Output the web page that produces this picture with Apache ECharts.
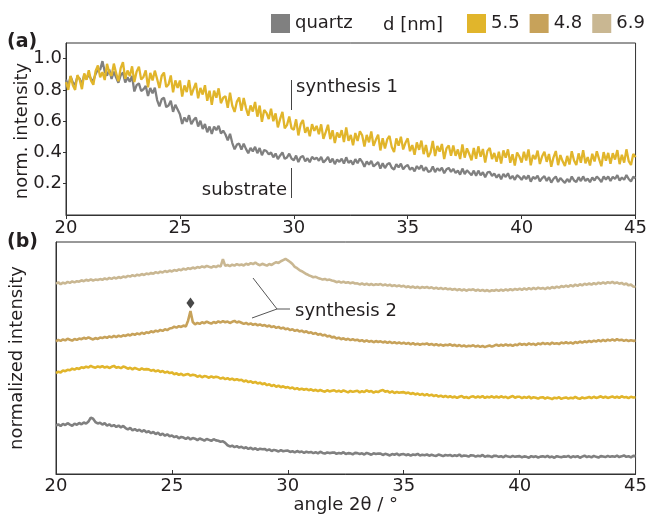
<!DOCTYPE html>
<html>
<head>
<meta charset="utf-8">
<script src="https://cdn.jsdelivr.net/npm/echarts@6/dist/echarts.min.js"></script>
<style>
  html, body { margin: 0; padding: 0; background: #fff; }
  #chart { width: 650px; height: 515px; }
</style>
</head>
<body>
<div id="chart"></div>
<script>
// Diffraction angle grid: 20.0 ... 45.0 deg in 0.1 deg steps
const angleStart = 20;
const angleStep = 0.1;

// Panel (a): normalized intensity x1000, one row per degree
const quartzA = [
  865, 828, 886, 848, 831, 884, 872, 834, 897, 870,
  900, 869, 858, 902, 931, 930, 984, 917, 891, 930,
  870, 917, 879, 846, 893, 911, 848, 880, 852, 889,
  790, 831, 842, 793, 804, 825, 761, 812, 778, 814,
  735, 695, 740, 750, 690, 700, 730, 660, 705, 675,
  645, 582, 624, 596, 638, 580, 607, 624, 566, 603,
  550, 582, 529, 566, 518, 566, 543, 570, 522, 539,
  515, 477, 519, 460, 420, 450, 457, 419, 456, 423,
  395, 429, 407, 436, 395, 428, 382, 416, 409, 388,
  400, 369, 393, 357, 381, 400, 359, 368, 392, 361,
  350, 380, 339, 369, 378, 343, 363, 337, 372, 356,
  367, 347, 372, 336, 351, 371, 336, 360, 325, 355,
  340, 360, 329, 369, 333, 348, 322, 357, 331, 361,
  340, 309, 343, 322, 346, 310, 324, 338, 297, 331,
  300, 324, 333, 302, 291, 325, 304, 328, 292, 311,
  320, 290, 304, 279, 313, 293, 317, 282, 306, 276,
  280, 310, 274, 299, 283, 303, 267, 292, 301, 276,
  295, 269, 284, 258, 297, 262, 286, 270, 255, 284,
  250, 284, 254, 273, 242, 272, 276, 250, 265, 239,
  260, 229, 263, 243, 267, 231, 250, 225, 254, 243,
  225, 250, 229, 254, 213, 243, 232, 252, 216, 236,
  248, 218, 242, 207, 232, 246, 211, 236, 220, 205,
  230, 210, 246, 221, 211, 242, 217, 247, 218, 233,
  210, 240, 221, 246, 231, 211, 246, 227, 247, 217,
  245, 230, 255, 220, 240, 225, 255, 230, 215, 245,
  235
];
const s55A = [
  850, 800, 890, 830, 800, 895, 865, 805, 905, 865,
  925, 859, 833, 922, 956, 880, 914, 863, 967, 911,
  890, 968, 907, 855, 939, 977, 871, 924, 888, 951,
  850, 917, 949, 866, 883, 925, 817, 909, 861, 923,
  870, 812, 889, 911, 818, 835, 892, 784, 861, 813,
  860, 757, 829, 786, 863, 765, 807, 844, 746, 813,
  770, 830, 730, 795, 705, 795, 750, 810, 715, 750,
  760, 686, 782, 698, 659, 725, 751, 667, 748, 684,
  635, 701, 662, 723, 629, 700, 596, 672, 653, 614,
  680, 600, 650, 560, 615, 660, 555, 575, 630, 555,
  545, 612, 509, 581, 608, 525, 562, 504, 581, 538,
  570, 517, 580, 487, 530, 577, 485, 542, 460, 527,
  495, 543, 467, 560, 474, 512, 446, 524, 473, 536,
  510, 438, 512, 465, 534, 442, 481, 514, 413, 491,
  425, 483, 506, 434, 402, 490, 443, 501, 419, 462,
  490, 408, 447, 385, 464, 417, 476, 389, 448, 371,
  400, 474, 377, 441, 405, 454, 358, 426, 445, 379,
  445, 379, 419, 358, 452, 367, 426, 390, 350, 429,
  360, 439, 373, 422, 336, 410, 429, 358, 397, 341,
  405, 329, 413, 366, 420, 334, 388, 317, 400, 374,
  335, 405, 349, 419, 318, 383, 357, 412, 326, 376,
  405, 340, 390, 309, 369, 409, 319, 383, 343, 313,
  378, 323, 408, 349, 319, 394, 334, 415, 330, 370,
  317, 392, 342, 407, 357, 312, 402, 347, 397, 327,
  395, 355, 415, 325, 385, 335, 420, 345, 320, 390,
  370
];

// Panel (b): stacked intensities (arbitrary units, offset per sample)
const quartzB = [
  209, 214, 207, 216, 211, 219, 213, 208, 217, 212,
  220, 214, 222, 217, 226, 243, 238, 224, 218, 221,
  213, 219, 208, 214, 206, 211, 203, 209, 201, 207,
  198, 192, 199, 188, 194, 186, 191, 183, 189, 180,
  184, 176, 181, 172, 178, 168, 174, 165, 171, 163,
  166, 159, 163, 154, 160, 157, 151, 158, 149, 155,
  152, 146, 153, 149, 144, 151, 147, 143, 150, 145,
  143, 139, 141, 134, 124, 119, 122, 116, 120, 114,
  117, 111, 115, 108, 113, 106, 111, 104, 109, 107,
  108, 102, 106, 99, 104, 101, 97, 103, 98, 100,
  101, 95, 98, 93, 99, 94, 97, 91, 96, 93,
  95, 90, 94, 89, 96, 91, 88, 93, 90, 92,
  93, 87, 91, 88, 94, 86, 90, 89, 85, 91,
  90, 86, 89, 84, 91, 87, 83, 89, 86, 88,
  88, 82, 87, 84, 80, 86, 83, 88, 81, 85,
  86, 81, 85, 79, 84, 82, 87, 80, 83, 81,
  84, 79, 83, 80, 78, 84, 81, 77, 82, 80,
  82, 77, 81, 78, 84, 76, 80, 79, 75, 81,
  80, 75, 79, 76, 82, 74, 78, 77, 73, 79,
  78, 74, 77, 72, 79, 75, 73, 78, 74, 76,
  77, 72, 76, 74, 70, 77, 73, 76, 71, 75,
  76, 73, 78, 72, 75, 70, 77, 74, 72, 76,
  74, 78, 71, 76, 73, 77, 70, 75, 79, 73,
  76, 72, 78, 74, 71, 77, 75, 73, 78, 74,
  77, 74, 79, 73, 76, 80, 74, 77, 72, 78,
  77
];
const s55B = [
  435, 441, 438, 446, 443, 449, 447, 454, 450, 456,
  453, 460, 457, 463, 459, 466, 461, 458, 464, 460,
  465, 459, 463, 457, 462, 466, 458, 461, 456, 463,
  460, 454, 458, 451, 457, 453, 449, 455, 450, 452,
  451, 445, 449, 442, 447, 440, 444, 437, 441, 435,
  438, 430, 434, 427, 432, 425, 429, 431, 424, 428,
  426, 419, 424, 417, 422, 420, 415, 421, 416, 419,
  417, 411, 415, 409, 413, 407, 411, 405, 409, 404,
  406, 399, 403, 396, 400, 393, 397, 390, 394, 387,
  391, 383, 387, 379, 384, 376, 381, 374, 378, 372,
  375, 369, 373, 366, 370, 364, 368, 363, 367, 361,
  365, 359, 363, 357, 362, 358, 355, 361, 356, 359,
  361, 355, 359, 354, 360, 356, 352, 358, 354, 357,
  359, 352, 357, 353, 361, 355, 358, 351, 356, 353,
  359, 362, 355, 358, 351, 356, 349, 354, 350, 352,
  353, 348, 351, 345, 349, 343, 347, 341, 345, 339,
  344, 338, 342, 336, 340, 334, 338, 332, 337, 331,
  335, 330, 334, 328, 333, 336, 329, 332, 327, 333,
  335, 329, 334, 330, 336, 328, 333, 330, 335, 329,
  334, 329, 335, 330, 333, 327, 332, 336, 329, 333,
  333, 327, 332, 328, 334, 326, 331, 329, 325, 330,
  331, 325, 330, 327, 323, 329, 326, 331, 324, 328,
  330, 325, 329, 326, 332, 327, 324, 330, 326, 329,
  332, 327, 333, 328, 331, 335, 329, 333, 328, 331,
  334, 329, 333, 328, 335, 330, 332, 327, 333, 330,
  331
];
const s48B = [
  572, 578, 574, 580, 576, 583, 579, 575, 582, 578,
  584, 581, 587, 583, 589, 584, 580, 586, 582, 588,
  586, 591, 587, 593, 589, 595, 590, 596, 592, 598,
  595, 601, 597, 604, 600, 606, 602, 609, 604, 611,
  608, 615, 611, 618, 614, 621, 617, 624, 620, 627,
  629, 635, 631, 637, 634, 640, 636, 662, 702, 655,
  645, 651, 647, 654, 650, 657, 652, 648, 655, 651,
  658, 653, 659, 654, 657, 651, 656, 660, 653, 657,
  652, 647, 651, 645, 649, 643, 647, 641, 645, 639,
  642, 636, 640, 633, 637, 630, 634, 627, 631, 624,
  627, 620, 624, 617, 621, 614, 618, 611, 615, 608,
  611, 604, 608, 600, 604, 597, 600, 593, 596, 589,
  591, 584, 588, 581, 585, 579, 583, 577, 581, 576,
  579, 573, 577, 571, 576, 570, 574, 568, 573, 569,
  572, 567, 571, 565, 570, 564, 568, 563, 567, 562,
  566, 561, 565, 559, 564, 558, 562, 557, 561, 559,
  563, 557, 561, 555, 560, 554, 558, 553, 557, 555,
  559, 553, 557, 551, 556, 550, 554, 549, 553, 551,
  555, 549, 553, 548, 552, 547, 551, 554, 549, 553,
  558, 552, 557, 553, 559, 554, 557, 552, 558, 555,
  562, 557, 561, 556, 563, 558, 561, 556, 563, 559,
  565, 560, 564, 559, 566, 561, 564, 560, 567, 563,
  568, 563, 567, 562, 569, 565, 571, 566, 572, 568,
  574, 569, 575, 571, 577, 572, 578, 573, 579, 575,
  580, 575, 581, 576, 579, 574, 578, 573, 577, 574,
  575
];
const s69B = [
  820, 826, 818, 825, 821, 828, 824, 830, 826, 831,
  829, 835, 831, 837, 833, 839, 834, 838, 836, 840,
  837, 843, 839, 845, 841, 847, 843, 849, 845, 851,
  848, 854, 851, 857, 853, 859, 856, 862, 858, 864,
  861, 867, 863, 870, 866, 872, 869, 875, 871, 877,
  873, 879, 876, 882, 878, 885, 881, 887, 884, 890,
  886, 892, 889, 895, 891, 897, 893, 890, 896, 892,
  898, 894, 926, 897, 901, 896, 902, 898, 905, 900,
  903, 899, 906, 902, 909, 905, 911, 904, 900, 906,
  902, 898, 905, 901, 908, 913, 910, 917, 922, 927,
  921, 914, 905, 893, 887, 879, 874, 868, 862, 857,
  853, 848, 850, 845, 842, 838, 841, 836, 838, 834,
  832, 827, 830, 825, 829, 824, 827, 822, 826, 821,
  822, 817, 821, 816, 820, 815, 819, 814, 818, 816,
  819, 813, 817, 812, 816, 810, 814, 809, 813, 808,
  811, 805, 809, 804, 808, 802, 807, 801, 806, 803,
  806, 801, 805, 799, 803, 798, 802, 797, 801, 796,
  799, 794, 798, 792, 797, 791, 796, 790, 795, 793,
  796, 790, 795, 789, 794, 788, 793, 787, 792, 790,
  794, 789, 795, 790, 796, 791, 797, 792, 798, 794,
  799, 794, 800, 795, 801, 796, 802, 797, 803, 799,
  802, 797, 804, 799, 806, 801, 808, 803, 810, 806,
  812, 807, 814, 809, 816, 811, 818, 813, 820, 816,
  821, 816, 823, 818, 825, 820, 826, 821, 827, 823,
  828, 822, 826, 820, 824, 817, 821, 813, 817, 808,
  806
];

// Reflection marked with a diamond on the 4.8 nm trace (angle, intensity)
const peakMark = [[25.8, 737]];

const xTicks = [20, 25, 30, 35, 40, 45];
const yTicksA = [0.2, 0.4, 0.6, 0.8, 1.0];

const FONT = 'DejaVu Sans';
const INK = '#231f20';
const COLORS = { quartz: '#808080', '5.5': '#e1b52b', '4.8': '#c7a25a', '6.9': '#c9b792' };

function pairs(values, scale) {
  return values.map((v, i) => [+(angleStart + i * angleStep).toFixed(1), v / scale]);
}

function lineSeries(name, values, scale, axisIndex, width) {
  return {
    name, type: 'line', xAxisIndex: axisIndex, yAxisIndex: axisIndex,
    data: pairs(values, scale), showSymbol: false, symbol: 'none',
    lineStyle: { color: COLORS[name], width }, itemStyle: { color: COLORS[name] },
    silent: true, z: 2
  };
}

const axisText = { fontFamily: FONT, fontSize: 18, color: INK };

const chart = echarts.init(document.getElementById('chart'), null, { renderer: 'canvas' });
chart.setOption({
  animation: false,
  backgroundColor: '#fff',
  textStyle: { fontFamily: FONT },
  grid: [
    { left: 66, top: 43, width: 571, height: 172, show: true, borderColor: '#333', borderWidth: 1, backgroundColor: 'transparent' },
    { left: 56, top: 242, width: 581, height: 232, show: true, borderColor: '#333', borderWidth: 1, backgroundColor: 'transparent' }
  ],
  legend: [
    {
      data: ['quartz'], left: 266, top: 9, icon: 'rect', itemWidth: 19, itemHeight: 19,
      itemGap: 10, textStyle: { fontFamily: FONT, fontSize: 18, color: INK }, selectedMode: false
    },
    {
      data: ['5.5', '4.8', '6.9'], left: 462, top: 9, icon: 'rect', itemWidth: 19, itemHeight: 19,
      itemGap: 10, textStyle: { fontFamily: FONT, fontSize: 18, color: INK }, selectedMode: false
    }
  ],
  xAxis: [
    {
      type: 'value', gridIndex: 0, min: 20, max: 45, interval: 5,
      axisLine: { show: true, lineStyle: { color: '#333', width: 1 } },
      axisTick: { show: true, inside: false, length: 4, lineStyle: { color: '#333' }, customValues: xTicks },
      axisLabel: Object.assign({ margin: 4, customValues: xTicks }, axisText),
      splitLine: { show: false }
    },
    {
      type: 'value', gridIndex: 1, min: 20, max: 45, interval: 5,
      name: 'angle 2θ / °', nameLocation: 'middle', nameGap: 22,
      nameTextStyle: { fontFamily: FONT, fontSize: 18, color: INK },
      axisLine: { show: true, lineStyle: { color: '#333', width: 1 } },
      axisTick: { show: true, inside: true, length: 4, lineStyle: { color: '#333' }, customValues: xTicks },
      axisLabel: Object.assign({ margin: 3, customValues: xTicks }, axisText),
      splitLine: { show: false }
    }
  ],
  yAxis: [
    {
      type: 'value', gridIndex: 0, min: 0, max: 1.1, interval: 0.2,
      axisLine: { show: true, lineStyle: { color: '#333', width: 1 } },
      axisTick: { show: true, inside: false, length: 3, lineStyle: { color: '#333' }, customValues: yTicksA },
      axisLabel: Object.assign({ margin: 4, customValues: yTicksA, formatter: v => v.toFixed(1) }, axisText),
      splitLine: { show: false }
    },
    {
      type: 'value', gridIndex: 1, min: 0, max: 1000,
      axisLine: { show: true, lineStyle: { color: '#333', width: 1 } },
      axisTick: { show: false }, axisLabel: { show: false }, splitLine: { show: false }
    }
  ],
  series: [
    lineSeries('quartz', quartzA, 1000, 0, 2.3),
    lineSeries('5.5', s55A, 1000, 0, 2.3),
    lineSeries('quartz', quartzB, 1, 1, 2.6),
    lineSeries('5.5', s55B, 1, 1, 2.6),
    lineSeries('4.8', s48B, 1, 1, 2.6),
    lineSeries('6.9', s69B, 1, 1, 2.6),
    {
      name: 'reflection', type: 'scatter', xAxisIndex: 1, yAxisIndex: 1,
      data: peakMark, symbol: 'diamond', symbolSize: [8, 11],
      itemStyle: { color: '#1a1a1a' }, silent: true, z: 3
    }
  ],
  graphic: [
    { type: 'text', left: 7, top: 33, style: { text: '(a)', font: 'bold 19px "DejaVu Sans"', fill: INK } },
    { type: 'text', left: 7, top: 233, style: { text: '(b)', font: 'bold 19px "DejaVu Sans"', fill: INK } },
    { type: 'text', x: 383, y: 25, style: { text: 'd [nm]', font: '18px "DejaVu Sans"', fill: INK, verticalAlign: 'middle' } },
    { type: 'text', x: 22, y: 131, rotation: Math.PI / 2, style: { text: 'norm. intensity', font: '18px "DejaVu Sans"', fill: INK, align: 'center', verticalAlign: 'middle' } },
    { type: 'text', x: 17, y: 358, rotation: Math.PI / 2, style: { text: 'normalized intensity', font: '18px "DejaVu Sans"', fill: INK, align: 'center', verticalAlign: 'middle' } },
    // panel (a) callouts
    { type: 'line', shape: { x1: 291.5, y1: 80, x2: 291.5, y2: 110 }, style: { stroke: '#444', lineWidth: 1 } },
    { type: 'text', x: 296, y: 87, style: { text: 'synthesis 1', font: '18px "DejaVu Sans"', fill: INK, verticalAlign: 'middle' } },
    { type: 'line', shape: { x1: 291.5, y1: 168, x2: 291.5, y2: 198 }, style: { stroke: '#444', lineWidth: 1 } },
    { type: 'text', x: 287, y: 190, style: { text: 'substrate', font: '18px "DejaVu Sans"', fill: INK, align: 'right', verticalAlign: 'middle' } },
    // panel (b) callout
    { type: 'polyline', shape: { points: [[253, 278], [277, 309], [290, 309]] }, style: { stroke: '#555', lineWidth: 1, fill: null } },
    { type: 'line', shape: { x1: 252, y1: 318, x2: 277, y2: 309 }, style: { stroke: '#555', lineWidth: 1 } },
    { type: 'text', x: 295, y: 311, style: { text: 'synthesis 2', font: '18px "DejaVu Sans"', fill: INK, verticalAlign: 'middle' } }
  ]
});
</script>
</body>
</html>
